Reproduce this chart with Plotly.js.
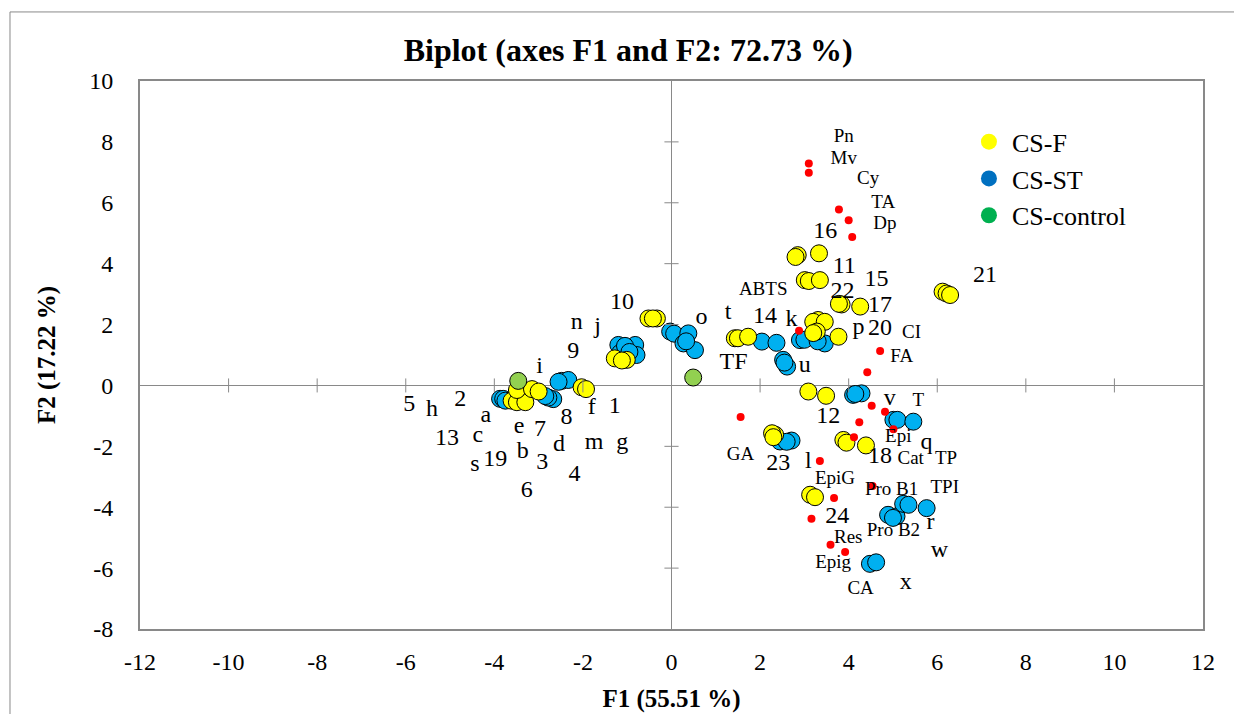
<!DOCTYPE html>
<html><head><meta charset="utf-8">
<script src="https://cdn.plot.ly/plotly-3.0.1.min.js"></script>
<style>body{margin:0;background:#fff}#chart{width:1234px;height:714px}</style>
</head><body><div id="chart"></div>
<script>
// Observations: CS-F (yellow)
const csF_x = [-3.61,-3.49,-3.30,-3.49,-3.15,-3.00,-2.03,-1.93,-1.28,-1.01,-1.12,-0.52,-0.33,-0.42,1.43,1.50,1.73,
  2.85,2.80,3.33,3.01,3.10,3.35,3.84,3.78,4.26,6.12,6.21,6.29,3.31,3.20,3.46,3.28,3.20,3.77,3.09,3.49,2.34,2.27,2.30,3.88,3.95,4.39,3.13,3.24];
const csF_y = [-0.50,-0.55,-0.55,-0.15,-0.12,-0.20,-0.06,-0.12,0.89,0.84,0.82,2.20,2.20,2.20,1.55,1.55,1.60,
  4.28,4.22,4.34,3.46,3.43,3.46,2.66,2.68,2.59,3.08,3.02,2.97,2.15,2.09,2.09,1.77,1.72,1.60,-0.20,-0.34,-1.62,-1.57,-1.70,-1.79,-1.88,-1.97,-3.59,-3.67];
// CS-ST (blue)
const csST_x = [-3.87,-3.80,-3.75,-2.67,-2.78,-2.85,-2.48,-2.33,-2.55,-1.20,-0.82,-0.79,-1.16,-1.05,-0.95,
  -0.03,0.06,0.38,0.27,0.53,0.33,2.04,2.37,2.52,2.61,2.55,2.90,3.00,3.46,3.30,4.10,4.29,4.15,5.01,5.10,5.46,2.45,2.71,2.60,
  4.89,5.08,5.00,5.23,5.35,5.76,4.48,4.62];
const csST_y = [-0.44,-0.44,-0.50,-0.45,-0.40,-0.35,0.15,0.18,0.12,1.33,1.33,1.00,1.07,1.30,1.10,
  1.77,1.70,1.71,1.38,1.16,1.45,1.44,1.40,0.84,0.62,0.75,1.49,1.50,1.38,1.45,-0.31,-0.26,-0.28,-1.13,-1.13,-1.19,-1.84,-1.81,-1.85,
  -4.25,-4.30,-4.35,-3.89,-3.92,-4.03,-5.86,-5.81];
// CS-control (green)
const csC_x = [-3.46,0.49];
const csC_y = [0.15,0.26];
// Variables (red dots)
const var_x = [3.10,3.10,3.78,4.00,4.08,2.88,4.71,4.42,4.52,4.82,5.01,4.24,4.12,1.56,3.35,4.54,3.67,3.16,3.59,3.92];
const var_y = [7.29,6.99,5.78,5.43,4.88,1.80,1.13,0.43,-0.67,-0.86,-1.44,-1.21,-1.70,-1.04,-2.48,-3.30,-3.70,-4.38,-5.23,-5.47];
// Variable labels
const varLab = ['Pn','Mv','Cy','TA','Dp','ABTS','CI','FA','T','Epi','Cat','TP','TPI','Pro B1','Pro B2','EpiG','Res','Epig','CA','GA'];
const varLab_x = [3.89,3.89,4.44,4.78,4.82,2.07,5.42,5.20,5.57,5.12,5.40,6.20,6.17,4.97,5.01,3.69,3.99,3.65,4.27,1.56];
const varLab_y = [8.16,7.44,6.77,6.00,5.30,3.13,1.71,0.93,-0.53,-1.70,-2.42,-2.44,-3.37,-3.43,-4.80,-3.08,-5.01,-5.83,-6.71,-2.28];
// Observation labels
const obsLab = ['1','2','3','4','5','6','7','8','9','10','11','12','13','14','15','16','17','18','19','20','21','22','23','24',
  'a','b','c','d','e','f','g','h','i','j','k','l','m','n','o','p','q','r','s','t','u','v','w','x','TF'];
const obsLab_x = [-1.28,-4.77,-2.92,-2.19,-5.92,-3.27,-2.97,-2.37,-2.22,-1.12,3.90,3.54,-5.07,2.11,4.63,3.47,4.71,4.71,-3.98,4.71,7.08,3.86,2.41,3.74,
  -4.19,-3.36,-4.37,-2.54,-3.44,-1.80,-1.11,-5.41,-2.98,-1.67,2.71,3.09,-1.75,-2.14,0.68,4.22,5.76,5.85,-4.44,1.28,3.01,4.93,6.05,5.29,1.40];
const obsLab_y = [-0.70,-0.48,-2.55,-2.94,-0.64,-3.48,-1.46,-1.08,1.11,2.70,3.90,-1.02,-1.77,2.26,3.46,5.05,2.62,-2.34,-2.44,1.84,3.58,3.08,-2.58,-4.32,
  -0.99,-2.20,-1.66,-1.95,-1.35,-0.75,-1.88,-0.80,0.62,1.93,2.15,-2.50,-1.90,2.04,2.20,1.88,-1.88,-4.52,-2.61,2.37,0.64,-0.44,-5.45,-6.49,0.73];
// Axis ticks
const xTicks = [-12,-10,-8,-6,-4,-2,0,2,4,6,8,10,12];
const yTicks = [-8,-6,-4,-2,0,2,4,6,8,10];

const serif = 'Liberation Serif, Times New Roman, serif';
const gray = '#898989';
const outline = {color:'#000', width:1};

const traces = [
  {x:csST_x, y:csST_y, mode:'markers', type:'scatter', showlegend:false, hoverinfo:'skip',
   marker:{size:17, color:'#00B0F0', line:outline}},
  {x:csF_x, y:csF_y, mode:'markers', type:'scatter', showlegend:false, hoverinfo:'skip',
   marker:{size:17, color:'#FFFF00', line:outline}},
  {x:csC_x, y:csC_y, mode:'markers', type:'scatter', showlegend:false, hoverinfo:'skip',
   marker:{size:17, color:'#92D050', line:outline}},
  {x:var_x, y:var_y, mode:'markers', type:'scatter', showlegend:false, hoverinfo:'skip',
   marker:{size:8, color:'#FF0000'}},
  {x:varLab_x, y:varLab_y, text:varLab, mode:'text', type:'scatter', showlegend:false, hoverinfo:'skip',
   textposition:'middle center', textfont:{family:serif, size:19, color:'#000'}, cliponaxis:false},
  {x:obsLab_x, y:obsLab_y, text:obsLab, mode:'text', type:'scatter', showlegend:false, hoverinfo:'skip',
   textposition:'middle center', textfont:{family:serif, size:24, color:'#000'}, cliponaxis:false},
  // legend entries
  {x:[null], y:[null], mode:'markers', type:'scatter', name:'CS-F', marker:{size:17, color:'#FFFF00'}},
  {x:[null], y:[null], mode:'markers', type:'scatter', name:'CS-ST', marker:{size:17, color:'#0070C0'}},
  {x:[null], y:[null], mode:'markers', type:'scatter', name:'CS-control', marker:{size:17, color:'#00B050'}}
];

const shapes = [];
xTicks.forEach(v => { if (v !== 0 && Math.abs(v) < 12) shapes.push({type:'line', xref:'x', yref:'y', x0:v, x1:v, y0:-0.23, y1:0.23, line:{color:gray, width:1}}); });
yTicks.forEach(v => { if (v !== 0 && v > -8 && v < 10) shapes.push({type:'line', xref:'x', yref:'y', x0:-0.16, x1:0.16, y0:v, y1:v, line:{color:gray, width:1}}); });
// outer chart border
shapes.push({type:'rect', xref:'paper', yref:'paper', x0:-0.1223, x1:1.05, y0:-0.2, y1:1.126, line:{color:gray, width:1}, layer:'below'});

const layout = {
  width:1234, height:714,
  margin:{l:140, r:31, t:81, b:85},
  paper_bgcolor:'#fff', plot_bgcolor:'#fff',
  title:{text:'<b>Biplot (axes F1 and F2: 72.73 %)</b>', font:{family:serif, size:32, color:'#000'},
         x:0.509, xanchor:'center', y:0.93, yanchor:'middle'},
  xaxis:{range:[-12,12], tickvals:xTicks, ticktext:xTicks.map(String), showgrid:false, zeroline:true, zerolinecolor:gray, zerolinewidth:1,
         showline:true, mirror:true, linecolor:gray, linewidth:2, ticks:'outside', ticklen:10, tickcolor:'rgba(0,0,0,0)',
         tickfont:{family:serif, size:24, color:'#000'},
         title:{text:'<b>F1 (55.51 %)</b>', font:{family:serif, size:25, color:'#000'}, standoff:16}},
  yaxis:{range:[-8,10], tickvals:yTicks, ticktext:yTicks.map(String), showgrid:false, zeroline:true, zerolinecolor:gray, zerolinewidth:1,
         showline:true, mirror:true, linecolor:gray, linewidth:2, ticks:'outside', ticklen:20, tickcolor:'rgba(0,0,0,0)',
         tickfont:{family:serif, size:24, color:'#000'},
         title:{text:'<b>F2 (17.22 %)</b>', font:{family:serif, size:25, color:'#000'}, standoff:26}},
  legend:{x:0.777, y:0.932, xanchor:'left', yanchor:'top', bgcolor:'rgba(0,0,0,0)', itemwidth:36,
          font:{family:serif, size:26, color:'#000'}, itemclick:false, tracegroupgap:0},
  shapes:shapes,
  showlegend:true
};

Plotly.newPlot('chart', traces, layout, {staticPlot:true, displayModeBar:false});
</script>
</body></html>
